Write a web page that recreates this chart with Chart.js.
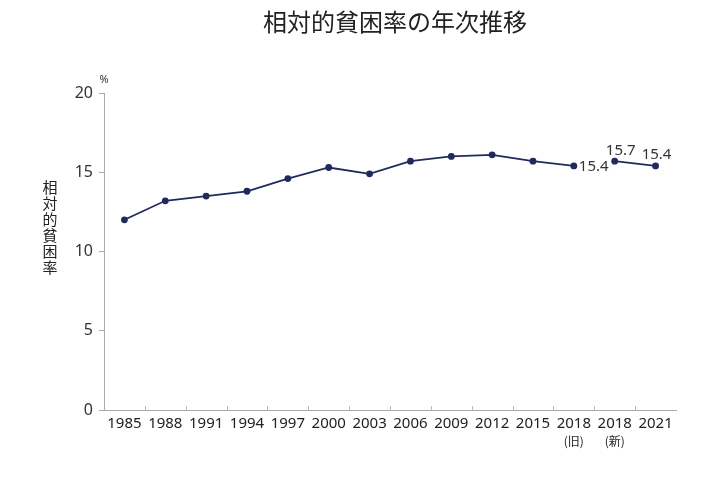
<!DOCTYPE html>
<html>
<head>
<meta charset="utf-8">
<script src="https://cdn.jsdelivr.net/npm/chart.js@4"></script>
<style>
  html, body { margin: 0; padding: 0; background: #fff; }
  #wrap { width: 711px; height: 479px; position: relative; }
</style>
</head>
<body>
<div id="wrap"><canvas id="chart"></canvas></div>
<script>
// Data
const years = ['1985', '1988', '1991', '1994', '1997', '2000', '2003', '2006', '2009', '2012', '2015', '2018', '2018', '2021'];
const yearNotes = ['', '', '', '', '', '', '', '', '', '', '', '(旧)', '(新)', ''];
const povertyRate = [12.0, 13.2, 13.5, 13.8, 14.6, 15.3, 14.9, 15.7, 16.0, 16.1, 15.7, 15.4, 15.7, 15.4];
const labelled = { 11: 'right', 12: 'above-left', 13: 'above' };
const yTicks = [0, 5, 10, 15, 20];

const FONT = '"Noto Sans", "Noto Sans CJK JP", sans-serif';
const JP = '"Noto Sans CJK JP", sans-serif';
const NAVY = '#1f2b5e';

// title, y title, % unit, value labels, upward x ticks, (旧)/(新) notes
const decorations = {
  id: 'decorations',
  afterDraw(chart) {
    const { ctx, chartArea: a, scales: { x, y } } = chart;
    ctx.save();
    ctx.fillStyle = '#222';
    ctx.font = '24px ' + JP;
    ctx.textAlign = 'center';
    ctx.textBaseline = 'middle';
    ctx.fillText('相対的貧困率の年次推移', (a.left + a.right) / 2 + 5, 22);

    ctx.font = '11px ' + FONT;
    ctx.fillStyle = '#333';
    ctx.fillText('%', a.left, 80);

    ctx.font = '15px ' + JP;
    ctx.fillStyle = '#222';
    '相対的貧困率'.split('').forEach((ch, i) => ctx.fillText(ch, 50, 187 + i * 16));

    // small upward ticks at category boundaries
    ctx.strokeStyle = '#bbb';
    ctx.lineWidth = 1;
    const step = (a.right - a.left) / years.length;
    for (let i = 1; i < years.length; i++) {
      const px = Math.round(a.left + i * step) + 0.5;
      ctx.beginPath();
      ctx.moveTo(px, a.bottom);
      ctx.lineTo(px, a.bottom - 4);
      ctx.stroke();
    }

    // notes under the 2018 labels
    ctx.font = '12px ' + JP;
    ctx.fillStyle = '#222';
    ctx.textAlign = 'center';
    yearNotes.forEach((n, i) => {
      if (n) ctx.fillText(n, x.getPixelForValue(i), 441);
    });

    // value labels
    ctx.font = '15px ' + FONT;
    ctx.fillStyle = '#333';
    Object.keys(labelled).forEach(k => {
      const i = +k;
      const px = x.getPixelForValue(i);
      const py = y.getPixelForValue(povertyRate[i]);
      const txt = povertyRate[i].toFixed(1);
      const pos = labelled[k];
      if (pos === 'right') {
        ctx.textAlign = 'left';
        ctx.fillText(txt, px + 5, py + 1);
      } else if (pos === 'above-left') {
        ctx.textAlign = 'center';
        ctx.fillText(txt, px + 6, py - 10);
      } else {
        ctx.textAlign = 'center';
        ctx.fillText(txt, px + 1, py - 11);
      }
    });
    ctx.restore();
  }
};

new Chart(document.getElementById('chart'), {
  type: 'line',
  data: {
    labels: years,
    datasets: [{
      data: povertyRate,
      borderColor: NAVY,
      backgroundColor: NAVY,
      borderWidth: 1.8,
      pointRadius: 3.4,
      pointBackgroundColor: NAVY,
      pointBorderWidth: 0,
      tension: 0,
      segment: {
        borderColor: c => c.p0DataIndex === 11 ? 'transparent' : undefined
      }
    }]
  },
  options: {
    responsive: true,
    maintainAspectRatio: false,
    animation: false,
    layout: { padding: { top: 93, right: 35, left: 0, bottom: 0 } },
    plugins: { legend: { display: false }, tooltip: { enabled: false } },
    scales: {
      x: {
        offset: true,
        grid: { display: false, drawTicks: false },
        border: { color: '#aaa', width: 1 },
        ticks: { color: '#222', font: { family: FONT, size: 15 }, padding: 5, maxRotation: 0, autoSkip: false },
        afterFit: s => { s.height = 69; }
      },
      y: {
        min: 0, max: 20,
        afterBuildTicks: s => { s.ticks = yTicks.map(v => ({ value: v })); },
        grid: { display: true, drawOnChartArea: false, tickLength: 5, color: '#aaa' },
        border: { color: '#aaa', width: 1 },
        ticks: { color: '#333', font: { family: FONT, size: 16 }, padding: 6 },
        afterFit: s => { s.width = 104; }
      }
    }
  },
  plugins: [decorations]
});
</script>
</body>
</html>
